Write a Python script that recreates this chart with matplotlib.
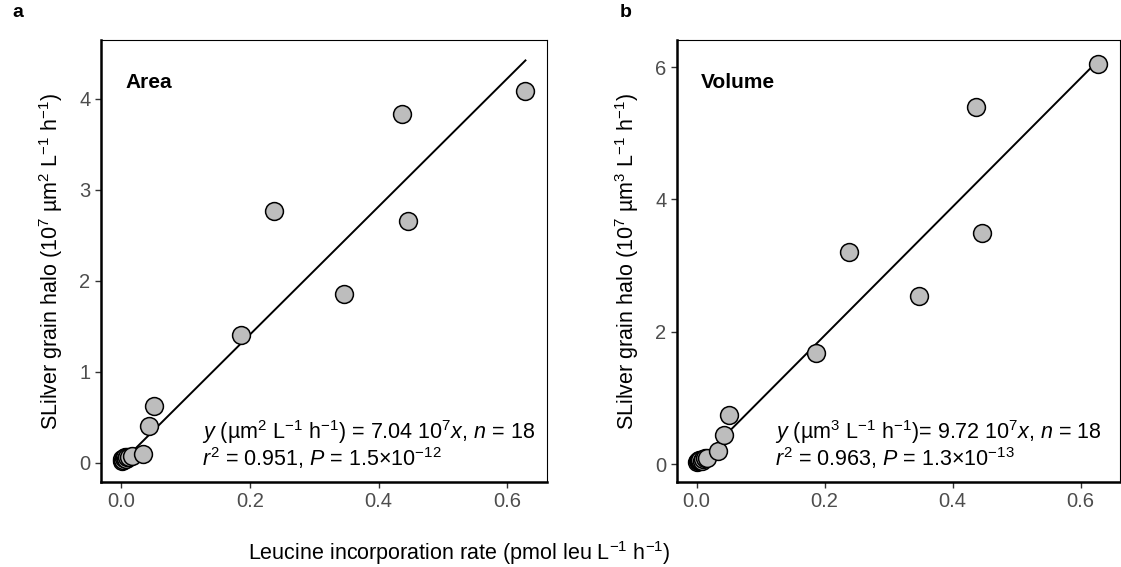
import numpy as np
import matplotlib
matplotlib.use("Agg")
import matplotlib.pyplot as plt

plt.rcParams["font.family"] = ["Liberation Sans", "DejaVu Sans"]
plt.rcParams["mathtext.fontset"] = "custom"
plt.rcParams["mathtext.rm"] = "Liberation Sans"
plt.rcParams["mathtext.it"] = "Liberation Sans:italic"
plt.rcParams["mathtext.bf"] = "Liberation Sans:bold"

# leucine incorporation rate (pmol leu L-1 h-1), shared by both panels
leucine = [0.001, 0.002, 0.003, 0.004, 0.006, 0.008, 0.010, 0.013, 0.017,
           0.034, 0.043, 0.051, 0.187, 0.238, 0.347, 0.436, 0.446, 0.628]

# silver grain halo area (10^7 um2 L-1 h-1)
halo_area = [0.02, 0.04, 0.03, 0.05, 0.06, 0.04, 0.07, 0.06, 0.08,
             0.10, 0.40, 0.62, 1.40, 2.77, 1.86, 3.83, 2.66, 4.09]

# silver grain halo volume (10^7 um3 L-1 h-1)
halo_volume = [0.03, 0.05, 0.04, 0.06, 0.07, 0.05, 0.08, 0.09, 0.10,
               0.20, 0.44, 0.75, 1.68, 3.21, 2.54, 5.40, 3.50, 6.05]

slope_area = 7.04
slope_volume = 9.72

panels = [
    dict(tag="a", name="Area", y=halo_area, slope=slope_area,
         ylim=(-0.21, 4.645), yticks=[0, 1, 2, 3, 4],
         ylabel=r"SLilver grain halo (10$^7$ µm$^2$ L$^{-1}$ h$^{-1}$)",
         eq1=r"$y$ (µm$^2$ L$^{-1}$ h$^{-1}$) = 7.04 10$^7$$x$, $n$ = 18",
         eq2=r"$r^2$ = 0.951, $P$ = 1.5×10$^{-12}$",
         rect=[0.0901, 0.1499, 0.3976, 0.7795], tx=0.226),
    dict(tag="b", name="Volume", y=halo_volume, slope=slope_volume,
         ylim=(-0.27, 6.41), yticks=[0, 2, 4, 6],
         ylabel=r"SLilver grain halo (10$^7$ µm$^3$ L$^{-1}$ h$^{-1}$)",
         eq1=r"$y$ (µm$^3$ L$^{-1}$ h$^{-1}$)= 9.72 10$^7$$x$, $n$ = 18",
         eq2=r"$r^2$ = 0.963, $P$ = 1.3×10$^{-13}$",
         rect=[0.6037, 0.1499, 0.3950, 0.7795], tx=0.222),
]

fig = plt.figure(figsize=(11.21, 5.67), dpi=100)

x = np.array(leucine)
for p in panels:
    ax = fig.add_axes(p["rect"])
    xl = np.array([x.min(), x.max()])
    ax.plot(xl, p["slope"] * xl, color="black", lw=1.4, zorder=2)
    ax.scatter(x, p["y"], s=165, facecolor="#bdbdbd", edgecolor="black",
               linewidth=1.1, zorder=3, clip_on=False)
    ax.set_xlim(-0.031, 0.661)
    ax.set_ylim(*p["ylim"])
    ax.set_xticks([0.0, 0.2, 0.4, 0.6])
    ax.set_xticklabels(["0.0", "0.2", "0.4", "0.6"])
    ax.set_yticks(p["yticks"])
    ax.tick_params(colors="#333333", labelcolor="#4d4d4d", labelsize=14.5,
                   length=4, width=1)
    for side in ["left", "bottom"]:
        ax.spines[side].set_linewidth(1.8)
    for side in ["top", "right"]:
        ax.spines[side].set_linewidth(0.8)
    ax.set_ylabel(p["ylabel"], fontsize=15.5, labelpad=10)
    ax.text(0.055, 0.905, p["name"], transform=ax.transAxes, fontsize=15,
            fontweight="bold", va="center")
    ax.text(p["tx"], 0.113, p["eq1"], transform=ax.transAxes, fontsize=15.5,
            va="center")
    ax.text(p["tx"], 0.055, p["eq2"], transform=ax.transAxes, fontsize=15.5,
            va="center")

fig.text(0.011, 0.978, "a", fontsize=14, fontweight="bold", va="center")
fig.text(0.553, 0.978, "b", fontsize=14, fontweight="bold", va="center")
fig.text(0.41, 0.025, r"Leucine incorporation rate (pmol leu L$^{-1}$ h$^{-1}$)",
         fontsize=15.5, ha="center", va="center")

fig.savefig("out.png", dpi=100)
